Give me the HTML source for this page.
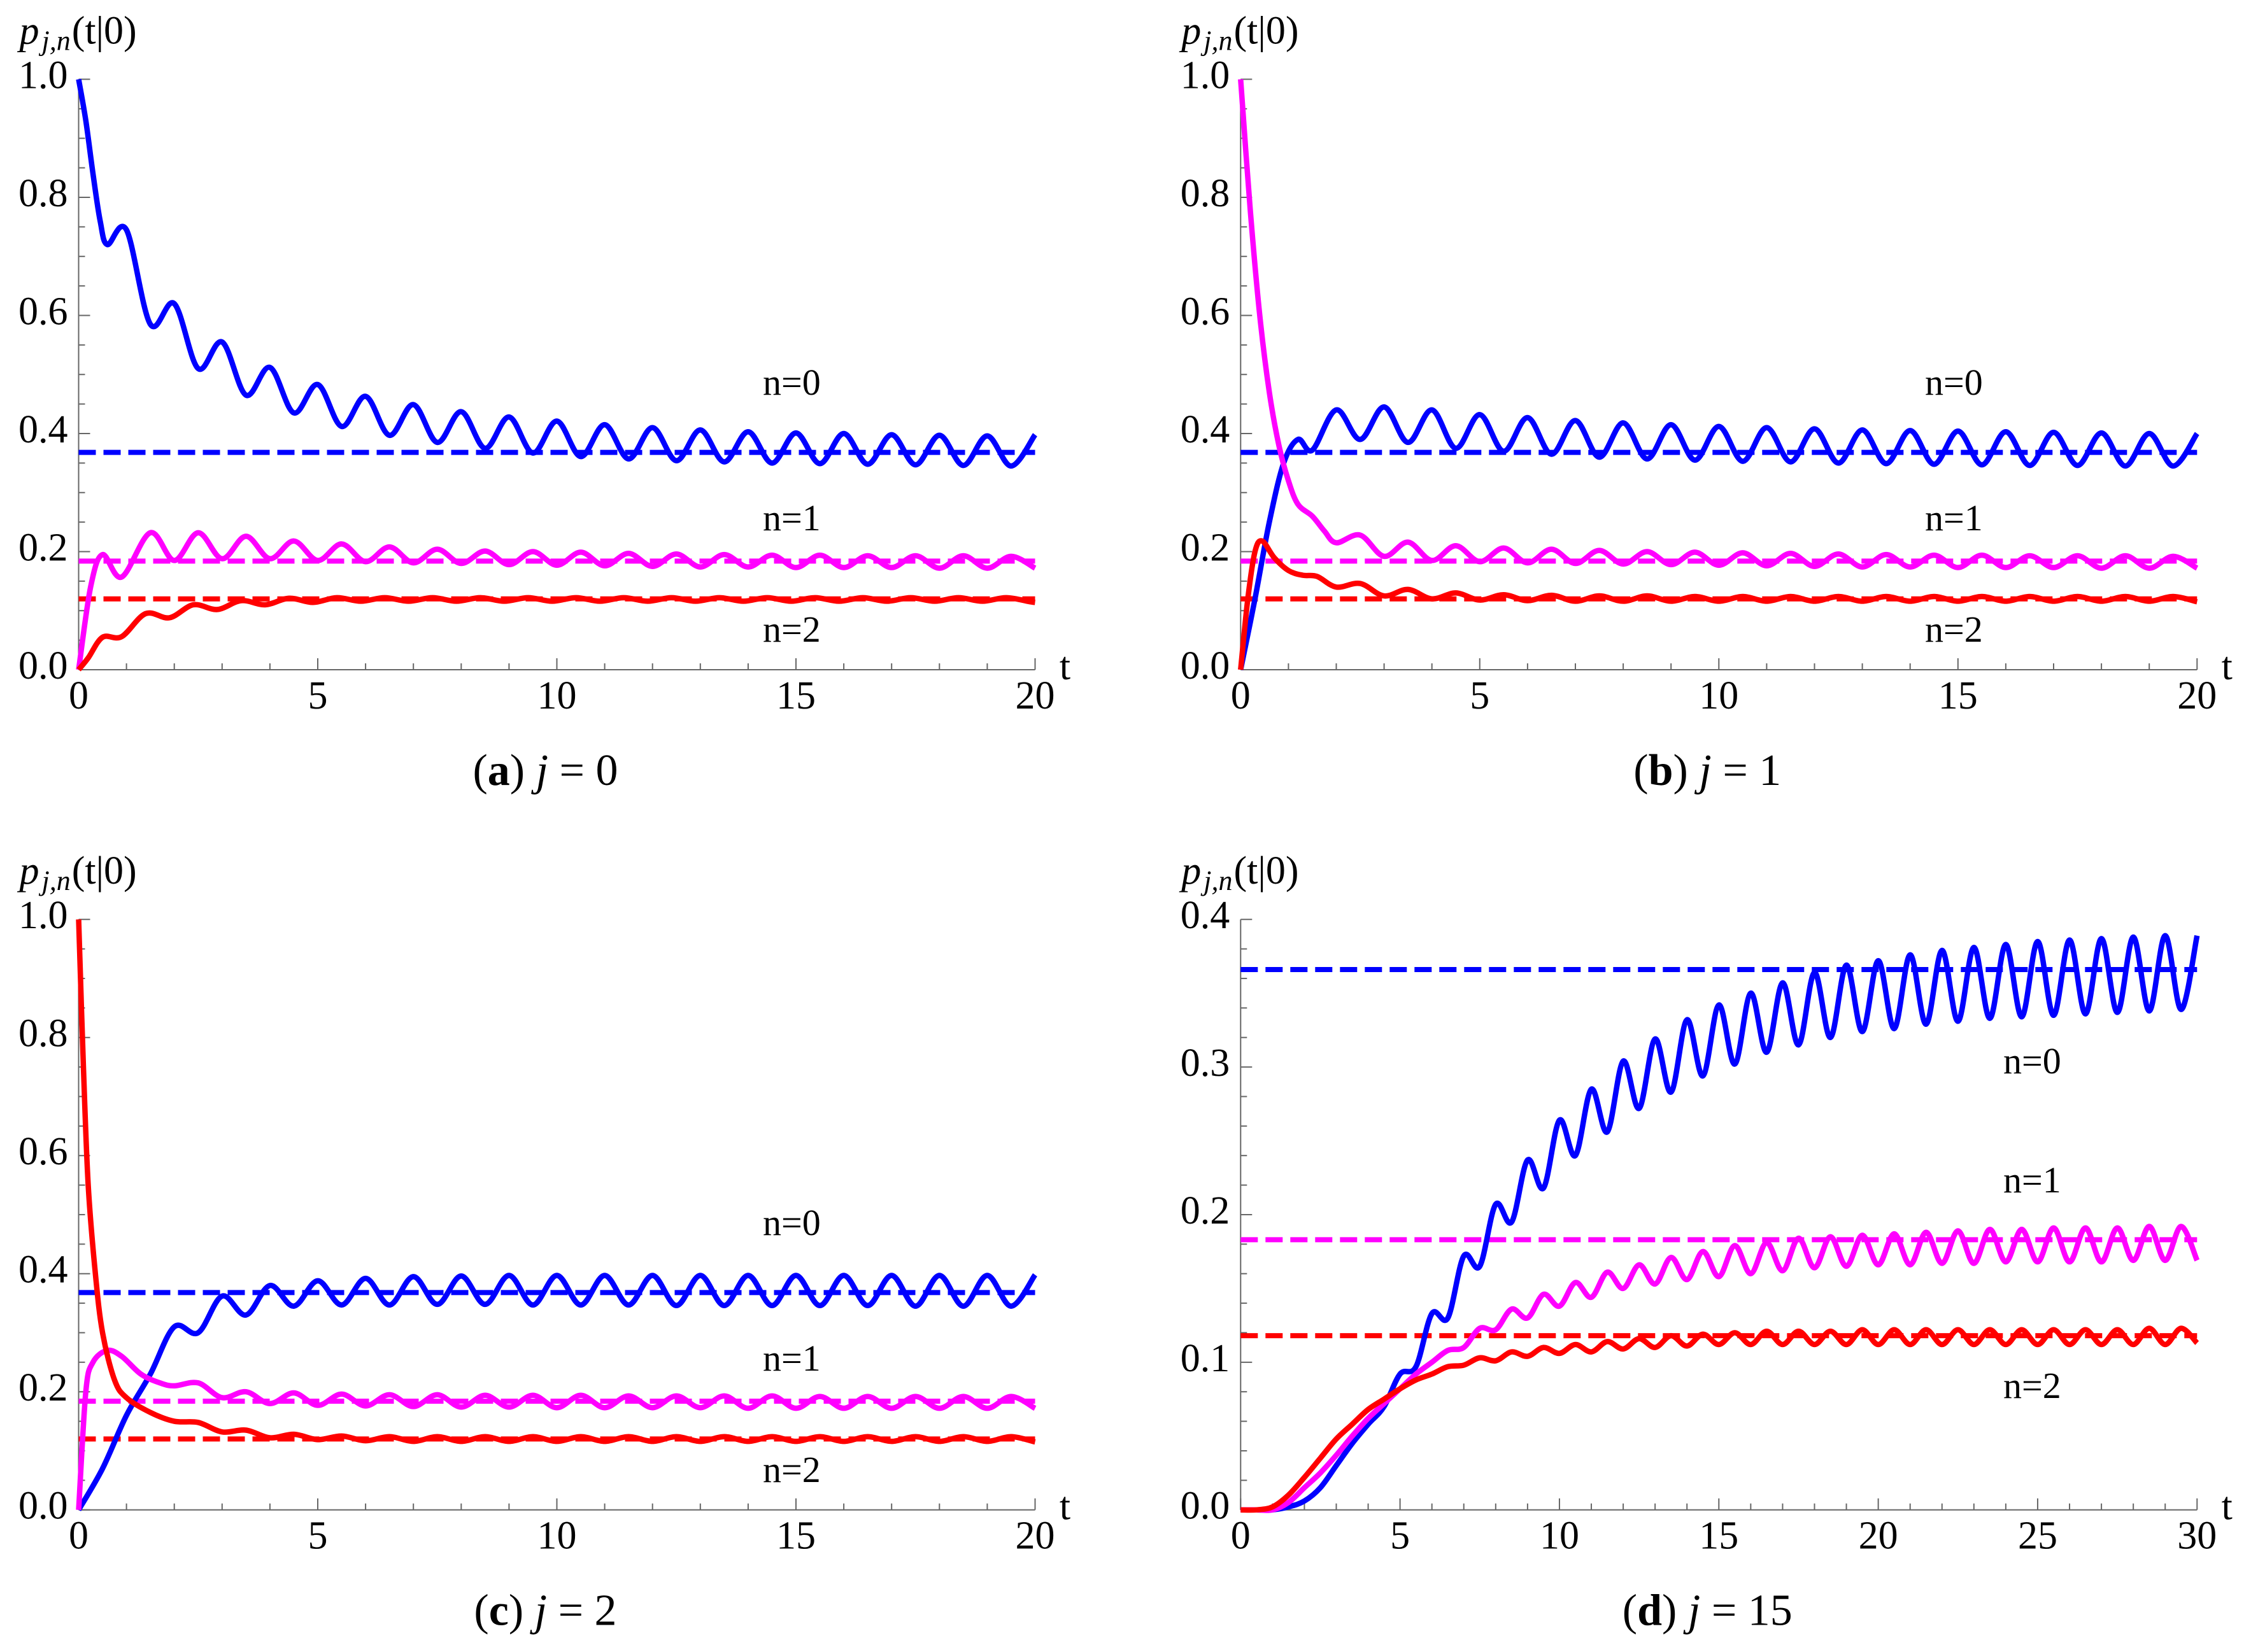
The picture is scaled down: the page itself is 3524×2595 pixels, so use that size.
<!DOCTYPE html>
<html><head><meta charset="utf-8"><style>
html,body{margin:0;padding:0;background:#fff;}
svg{display:block;font-family:"Liberation Serif",serif;}
svg text{font-family:"Liberation Serif",serif;}
</style></head><body>
<svg id="fig" width="3524" height="2595" viewBox="0 0 3524 2595" xmlns="http://www.w3.org/2000/svg" font-family="Liberation Serif, serif"></svg>
<script>
// ---------- data ----------
const asymptotes = [0.368, 0.184, 0.12];
const asymptotesD = [0.366, 0.183, 0.118];
const xTicksA = [0,5,10,15,20];
const xTicksD = [0,5,10,15,20,25,30];
const yTicksA = [0.0,0.2,0.4,0.6,0.8,1.0];
const yTicksD = [0.0,0.1,0.2,0.3,0.4];
const captions = ["a","b","c","d"];
const captionJ = ["0","1","2","15"];

// panel (a) j=0
const aBlueT = [0,0.15,0.3,0.45,0.6,1,1.5,2,2.5,3,3.5,4,4.5,5,5.5,6,6.5,7,7.5,8,8.5,9,9.5,10,10.5,11,11.5,12,12.5,13,13.5,14,14.5,15,15.5,16,16.5,17,17.5,18,18.5,19,19.5,20];
const aBlueV = [1.0,0.93,0.84,0.76,0.72,0.745,0.585,0.62,0.51,0.555,0.465,0.512,0.435,0.483,0.412,0.463,0.397,0.449,0.385,0.437,0.375,0.428,0.367,0.421,0.361,0.415,0.357,0.41,0.354,0.406,0.352,0.403,0.35,0.401,0.349,0.4,0.348,0.398,0.347,0.397,0.346,0.396,0.345,0.398];
const aMagT = [0,0.25,0.5,0.9,1.5,2,2.5,3,3.5,4,4.5,5,5.5,6,6.5,7,7.5,8,8.5,9,9.5,10,10.5,11,11.5,12,12.5,13,13.5,14,14.5,15,15.5,16,16.5,17,17.5,18,18.5,19,19.5,20];
const aMagV = [0,0.14,0.195,0.157,0.232,0.185,0.232,0.188,0.226,0.188,0.218,0.185,0.213,0.183,0.208,0.181,0.204,0.18,0.201,0.178,0.2,0.177,0.199,0.176,0.197,0.175,0.196,0.174,0.195,0.174,0.194,0.173,0.194,0.173,0.193,0.173,0.193,0.172,0.193,0.172,0.192,0.172];
const aRedT = [0,0.2,0.5,0.9,1.4,1.9,2.4,2.9,3.4,3.9,4.4,4.9,5.4,5.9,6.4,6.9,7.4,7.9,8.4,8.9,9.4,9.9,10.4,10.9,11.4,11.9,12.4,12.9,13.4,13.9,14.4,14.9,15.4,15.9,16.4,16.9,17.4,17.9,18.4,18.9,19.4,19.9,20];
const aRedV = [0,0.02,0.055,0.056,0.095,0.088,0.11,0.102,0.117,0.11,0.121,0.114,0.122,0.116,0.122,0.116,0.122,0.116,0.122,0.116,0.122,0.116,0.122,0.116,0.122,0.116,0.122,0.116,0.122,0.116,0.122,0.116,0.122,0.116,0.122,0.116,0.122,0.116,0.122,0.116,0.122,0.115,0.114];

// panel (b) j=1
const bBlueT = [0,0.3,0.6,0.9,1.2,1.5,2,2.5,3,3.5,4,4.5,5,5.5,6,6.5,7,7.5,8,8.5,9,9.5,10,10.5,11,11.5,12,12.5,13,13.5,14,14.5,15,15.5,16,16.5,17,17.5,18,18.5,19,19.5,20];
const bBlueV = [0,0.12,0.25,0.35,0.39,0.372,0.44,0.39,0.445,0.385,0.44,0.375,0.432,0.37,0.427,0.365,0.422,0.36,0.418,0.357,0.415,0.355,0.412,0.353,0.41,0.352,0.408,0.35,0.406,0.349,0.405,0.348,0.404,0.347,0.403,0.346,0.402,0.346,0.401,0.345,0.4,0.345,0.4];
const bMagT = [0,0.2,0.4,0.6,0.8,1.0,1.2,1.5,1.75,2.0,2.5,3,3.5,4,4.5,5,5.5,6,6.5,7,7.5,8,8.5,9,9.5,10,10.5,11,11.5,12,12.5,13,13.5,14,14.5,15,15.5,16,16.5,17,17.5,18,18.5,19,19.5,20];
const bMagV = [1.0,0.78,0.6,0.47,0.38,0.32,0.28,0.26,0.235,0.215,0.228,0.192,0.216,0.185,0.21,0.183,0.206,0.181,0.204,0.18,0.202,0.179,0.2,0.178,0.199,0.177,0.198,0.176,0.197,0.175,0.196,0.174,0.195,0.174,0.194,0.173,0.194,0.173,0.193,0.173,0.193,0.172,0.193,0.172,0.192,0.172];
const bRedT = [0,0.15,0.3,0.45,0.7,1.0,1.3,1.6,2.0,2.5,3,3.5,4,4.5,5,5.5,6,6.5,7,7.5,8,8.5,9,9.5,10,10.5,11,11.5,12,12.5,13,13.5,14,14.5,15,15.5,16,16.5,17,17.5,18,18.5,19,19.5,20];
const bRedV = [0,0.12,0.2,0.218,0.19,0.168,0.16,0.158,0.14,0.146,0.125,0.136,0.12,0.13,0.118,0.127,0.117,0.126,0.116,0.125,0.116,0.125,0.116,0.124,0.116,0.124,0.116,0.124,0.116,0.124,0.116,0.124,0.116,0.124,0.116,0.124,0.116,0.124,0.116,0.124,0.116,0.124,0.116,0.124,0.115];

// panel (c) j=2
const cBlueT = [0,0.5,1,1.5,2,2.5,3,3.5,4,4.5,5,5.5,6,6.5,7,7.5,8,8.5,9,9.5,10,10.5,11,11.5,12,12.5,13,13.5,14,14.5,15,15.5,16,16.5,17,17.5,18,18.5,19,19.5,20];
const cBlueV = [0,0.07,0.16,0.23,0.31,0.3,0.362,0.33,0.38,0.345,0.388,0.347,0.392,0.347,0.395,0.348,0.396,0.348,0.397,0.347,0.397,0.347,0.397,0.347,0.397,0.346,0.397,0.346,0.397,0.346,0.397,0.346,0.397,0.346,0.397,0.345,0.397,0.345,0.397,0.345,0.398];
const cMagT = [0,0.15,0.3,0.6,0.9,1.3,1.7,2.0,2.5,3,3.5,4,4.5,5,5.5,6,6.5,7,7.5,8,8.5,9,9.5,10,10.5,11,11.5,12,12.5,13,13.5,14,14.5,15,15.5,16,16.5,17,17.5,18,18.5,19,19.5,20];
const cMagV = [0,0.2,0.25,0.27,0.26,0.23,0.215,0.21,0.215,0.19,0.2,0.18,0.198,0.177,0.196,0.176,0.195,0.175,0.195,0.174,0.194,0.174,0.194,0.173,0.194,0.173,0.193,0.173,0.193,0.173,0.193,0.172,0.193,0.172,0.192,0.172,0.192,0.172,0.192,0.172,0.192,0.172,0.192,0.172];
const cRedT = [0,0.1,0.2,0.35,0.5,0.75,1.0,1.5,2.0,2.5,3,3.5,4,4.5,5,5.5,6,6.5,7,7.5,8,8.5,9,9.5,10,10.5,11,11.5,12,12.5,13,13.5,14,14.5,15,15.5,16,16.5,17,17.5,18,18.5,19,19.5,20];
const cRedV = [1.0,0.75,0.55,0.4,0.3,0.22,0.19,0.165,0.15,0.148,0.132,0.135,0.122,0.128,0.119,0.125,0.117,0.124,0.116,0.124,0.116,0.124,0.116,0.124,0.116,0.124,0.116,0.124,0.116,0.124,0.116,0.124,0.116,0.124,0.116,0.124,0.116,0.124,0.116,0.124,0.116,0.124,0.116,0.124,0.115];

// panel (d) j=15
const dT = [0,0.5,1,1.5,2,2.5,3,3.5,4,4.5,5,5.5,6,6.5,7,7.5,8,8.5,9,9.5,10,10.5,11,11.5,12,12.5,13,13.5,14,14.5,15,15.5,16,16.5,17,17.5,18,18.5,19,19.5,20,20.5,21,21.5,22,22.5,23,23.5,24,24.5,25,25.5,26,26.5,27,27.5,28,28.5,29,29.5,30];
const dBlueV = [0,0,0,0.002,0.006,0.015,0.03,0.045,0.058,0.07,0.092,0.097,0.133,0.13,0.172,0.165,0.207,0.195,0.237,0.218,0.264,0.24,0.285,0.256,0.304,0.272,0.319,0.283,0.332,0.294,0.342,0.302,0.35,0.31,0.357,0.315,0.364,0.32,0.369,0.324,0.372,0.326,0.376,0.329,0.379,0.331,0.381,0.333,0.383,0.334,0.385,0.335,0.386,0.336,0.387,0.337,0.388,0.338,0.389,0.339,0.389];
const dMagV = [0,0,0,0.005,0.015,0.025,0.037,0.05,0.062,0.072,0.082,0.092,0.1,0.108,0.11,0.123,0.122,0.136,0.13,0.146,0.138,0.154,0.144,0.161,0.15,0.166,0.153,0.171,0.156,0.175,0.158,0.179,0.16,0.181,0.162,0.184,0.164,0.185,0.165,0.186,0.166,0.187,0.166,0.188,0.167,0.189,0.167,0.19,0.168,0.19,0.168,0.191,0.168,0.191,0.168,0.191,0.169,0.192,0.169,0.192,0.169];
const dRedV = [0,0,0.002,0.01,0.022,0.035,0.048,0.058,0.068,0.075,0.082,0.088,0.092,0.097,0.098,0.103,0.101,0.107,0.104,0.11,0.106,0.112,0.107,0.114,0.109,0.116,0.11,0.118,0.111,0.119,0.112,0.12,0.112,0.121,0.112,0.121,0.112,0.121,0.112,0.122,0.112,0.122,0.112,0.122,0.112,0.122,0.112,0.122,0.112,0.122,0.112,0.122,0.112,0.122,0.112,0.122,0.112,0.123,0.112,0.123,0.113];

// ---------- drawing ----------
const NS = "http://www.w3.org/2000/svg";
const svg = document.getElementById("fig");
const PW = 1502, PH = 927.5;
const COLORS = ["#0000ff","#ff00ff","#ff0000"];
const FF = '"Liberation Serif", serif';

function mk(tag, attrs, parent){
  const e = document.createElementNS(NS, tag);
  for (const k in attrs) e.setAttribute(k, attrs[k]);
  if (tag === "text") e.setAttribute("font-family", FF);
  (parent||svg).appendChild(e);
  return e;
}
function smoothPath(pts){
  let d = "M" + pts[0][0].toFixed(2) + "," + pts[0][1].toFixed(2);
  for (let i=0;i<pts.length-1;i++){
    const p0 = pts[Math.max(0,i-1)], p1 = pts[i], p2 = pts[i+1], p3 = pts[Math.min(pts.length-1,i+2)];
    const c1x = p1[0]+(p2[0]-p0[0])/6, c1y = p1[1]+(p2[1]-p0[1])/6;
    const c2x = p2[0]-(p3[0]-p1[0])/6, c2y = p2[1]-(p3[1]-p1[1])/6;
    d += " C"+c1x.toFixed(2)+","+c1y.toFixed(2)+" "+c2x.toFixed(2)+","+c2y.toFixed(2)+" "+p2[0].toFixed(2)+","+p2[1].toFixed(2);
  }
  return d;
}

function panel(cfg){
  const g = mk("g", {});
  
  
  const x0 = cfg.x0, y0 = cfg.y0;
  const sx = t => x0 + t / cfg.xmax * PW;
  const sy = v => y0 - v / cfg.ymax * PH;

  const ax = mk("g", {stroke:"#666", "stroke-width":2, fill:"none"}, g);
  
  
  mk("line", {x1:x0, y1:y0, x2:x0+PW, y2:y0}, ax);
  mk("line", {x1:x0, y1:y0, x2:x0, y2:y0-PH}, ax);
  for (let t=0; t<=cfg.xmax+1e-9; t+=1){
    const major = Math.abs(t/5 - Math.round(t/5))<1e-9;
    mk("line", {x1:sx(t), y1:y0, x2:sx(t), y2:y0-(major?18:10)}, ax);
  }
  const nMinor = Math.round(cfg.ymax / cfg.yMinor);
  for (let k=0;k<=nMinor;k++){
    const v = k*cfg.yMinor;
    const major = Math.abs(v/cfg.yMajor - Math.round(v/cfg.yMajor))<1e-6;
    mk("line", {x1:x0, y1:sy(v), x2:x0+(major?18:10), y2:sy(v)}, ax);
  }
  cfg.xTicks.forEach(t=>{
    const e = mk("text", {x:sx(t), y:y0+61, "font-size":62, "text-anchor":"middle", fill:"#000"}, g);
    e.textContent = String(t);
    
    
  });
  cfg.yTicks.forEach(v=>{
    const e = mk("text", {x:x0-17, y:sy(v)+14, "font-size":62, "text-anchor":"end", fill:"#000"}, g);
    e.textContent = v.toFixed(1);
    
    
  });
  const tl = mk("text", {x:x0+PW+47, y:y0+15, "font-size":62, "text-anchor":"middle", fill:"#000"}, g);
  tl.textContent = "t";
  
  

  const yt = mk("text", {x:x0-93, y:y0-PH-56, "font-size":62, fill:"#000"}, g);
  
  
  const s1 = mk("tspan", {"font-style":"italic"}, yt); s1.textContent = "p";
  const s2 = mk("tspan", {"font-style":"italic", "font-size":44, dy:10, dx:4}, yt); s2.textContent = "j,n";
  const s3 = mk("tspan", {dy:-10, dx:2}, yt); s3.textContent = "(t|0)";

  cfg.asym.forEach((v,i)=>{
    const l = mk("line", {x1:x0, y1:sy(v), x2:x0+PW, y2:sy(v), stroke:COLORS[i], "stroke-width":8, "stroke-dasharray":"27 12"}, g);
    
    
  });
  cfg.series.forEach((s,i)=>{
    const pts = s.t.map((t,k)=>[sx(t), sy(s.v[k])]);
    const p = mk("path", {d:smoothPath(pts), fill:"none", stroke:COLORS[s.c], "stroke-width":8.5, "stroke-linejoin":"round", "stroke-linecap":"butt"}, g);
    
    
  });
  cfg.nLabels.forEach((yy,i)=>{
    const e = mk("text", {x:cfg.nx, y:yy, "font-size":58, fill:"#000"}, g);
    e.textContent = "n=" + i;
    
    
  });
  const cap = mk("text", {x:x0+733, y:y0+181, "font-size":70, "text-anchor":"middle", fill:"#000"}, g);
  
  
  const c1 = mk("tspan", {}, cap); c1.textContent = "(";
  const c2 = mk("tspan", {"font-weight":"bold"}, cap); c2.textContent = captions[cfg.idx];
  const c3 = mk("tspan", {}, cap); c3.textContent = ") ";
  const c4 = mk("tspan", {"font-style":"italic"}, cap); c4.textContent = "j";
  const c5 = mk("tspan", {}, cap); c5.textContent = " = " + captionJ[cfg.idx];
}

panel({id:"a", idx:0, x0:123.5, y0:1052, xmax:20, ymax:1.0, yMinor:0.05, yMajor:0.2, xTicks:xTicksA, yTicks:yTicksA, asym:asymptotes,
  series:[{t:aBlueT,v:aBlueV,c:0},{t:aMagT,v:aMagV,c:1},{t:aRedT,v:aRedV,c:2}], nx:1198, nLabels:[620,833,1008]});
panel({id:"b", idx:1, x0:1948.3, y0:1052, xmax:20, ymax:1.0, yMinor:0.05, yMajor:0.2, xTicks:xTicksA, yTicks:yTicksA, asym:asymptotes,
  series:[{t:bBlueT,v:bBlueV,c:0},{t:bRedT,v:bRedV,c:2},{t:bMagT,v:bMagV,c:1}], nx:3023, nLabels:[620,833,1008]});
panel({id:"c", idx:2, x0:123.5, y0:2371.7, xmax:20, ymax:1.0, yMinor:0.05, yMajor:0.2, xTicks:xTicksA, yTicks:yTicksA, asym:asymptotes,
  series:[{t:cBlueT,v:cBlueV,c:0},{t:cMagT,v:cMagV,c:1},{t:cRedT,v:cRedV,c:2}], nx:1198, nLabels:[1940,2153,2328]});
panel({id:"d", idx:3, x0:1948.3, y0:2371.7, xmax:30, ymax:0.4, yMinor:0.02, yMajor:0.1, xTicks:xTicksD, yTicks:yTicksD, asym:asymptotesD,
  series:[{t:dT,v:dBlueV,c:0},{t:dT,v:dMagV,c:1},{t:dT,v:dRedV,c:2}], nx:3146, nLabels:[1686,1873,2196]});
</script>
</body></html>
